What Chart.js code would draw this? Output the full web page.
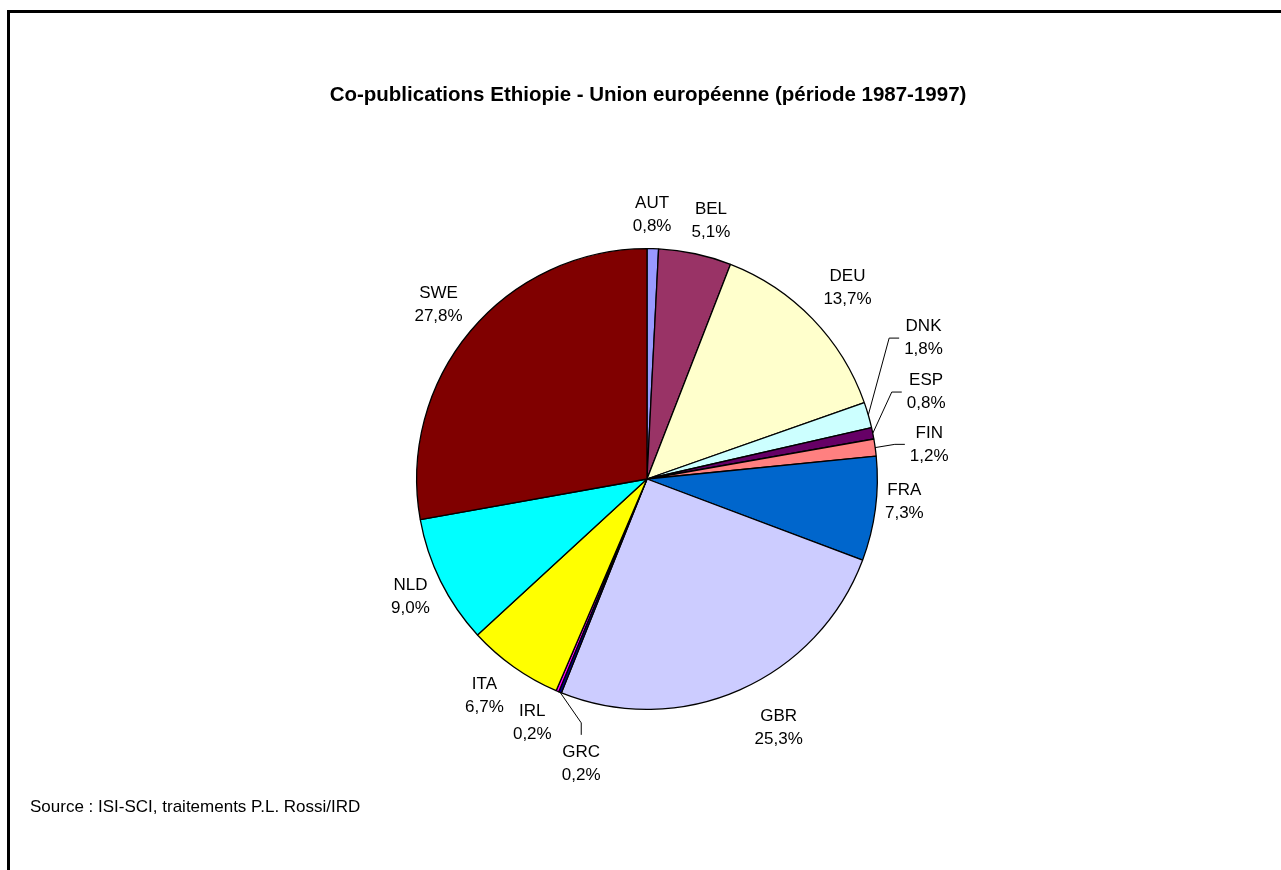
<!DOCTYPE html>
<html>
<head>
<meta charset="utf-8">
<script src="https://cdn.jsdelivr.net/npm/chart.js@4"></script>
<style>
  html, body { margin: 0; padding: 0; background: #fff; overflow: hidden; }
  #wrap { position: relative; width: 1281px; height: 870px; }
  #frame { position: absolute; left: 7px; top: 10px; width: 1300px; height: 900px;
           border-left: 3px solid #000; border-top: 3px solid #000; }
  canvas { position: absolute; left: 0; top: 0; }
</style>
</head>
<body>
<div id="wrap">
  <div id="frame"></div>
  <canvas id="pie" width="1281" height="870"></canvas>
</div>
<script>
// ── Data ──────────────────────────────────────────────────────────
const countries = ["AUT", "BEL", "DEU", "DNK", "ESP", "FIN", "FRA", "GBR", "GRC", "IRL", "ITA", "NLD", "SWE"];
const shares    = [0.8, 5.1, 13.7, 1.8, 0.8, 1.2, 7.3, 25.3, 0.2, 0.2, 6.7, 9.0, 27.8];
const colors    = ["#9999FF", "#993366", "#FFFFCC", "#CCFFFF", "#660066", "#FF8080",
                   "#0066CC", "#CCCCFF", "#000080", "#FF00FF", "#FFFF00", "#00FFFF", "#800000"];

const TITLE  = "Co-publications Ethiopie - Union européenne (période 1987-1997)";
const SOURCE = "Source : ISI-SCI, traitements P.L. Rossi/IRD";

// label placement: [angle from 12 o'clock in degrees, distance beyond the rim]
const labelPlace = {
  AUT: [1.1, 34],  BEL: [13.9, 36], DEU: [46.3, 47], DNK: [63.0, 80],
  ESP: [72.7, 62], FIN: [83.0, 54], FRA: [95.1, 28], GBR: [152.1, 51],
  GRC: [193.0, 62], IRL: [205.2, 39], ITA: [216.8, 41], NLD: [243.5, 34],
  SWE: [309.8, 41],
};
const leaders = { DNK: "side", ESP: "side", FIN: "side", GRC: "below" };

const FONT = "Arial, 'Liberation Sans', sans-serif";

// ── Labels + leader lines ─────────────────────────────────────────
const pieLabels = {
  id: "pieLabels",
  afterDatasetsDraw(chart) {
    const ctx = chart.ctx;
    const arcs = chart.getDatasetMeta(0).data;
    ctx.save();
    ctx.font = `17px ${FONT}`;
    ctx.fillStyle = "#000";
    ctx.strokeStyle = "#000";
    ctx.lineWidth = 1;
    ctx.textAlign = "center";
    ctx.textBaseline = "middle";
    const lineH = 23;

    arcs.forEach((arc, i) => {
      const p = arc.getProps(["x", "y", "startAngle", "endAngle", "outerRadius"], true);
      const name = countries[i];
      const pct = shares[i].toFixed(1).replace(".", ",") + "%";
      const [deg, extra] = labelPlace[name];
      const a = deg * Math.PI / 180;
      const lx = p.x + (p.outerRadius + extra) * Math.sin(a);
      const ly = p.y - (p.outerRadius + extra) * Math.cos(a);

      ctx.fillText(name, lx, ly - lineH / 2);
      ctx.fillText(pct,  lx, ly + lineH / 2);

      const kind = leaders[name];
      if (!kind) return;
      const mid = (p.startAngle + p.endAngle) / 2;
      const ax = p.x + p.outerRadius * Math.cos(mid);
      const ay = p.y + p.outerRadius * Math.sin(mid);
      const w = Math.max(ctx.measureText(name).width, ctx.measureText(pct).width);
      let ex, ey, kx, ky;
      if (kind === "side") {
        ex = lx - w / 2 - 5; ey = ly;
        kx = ex - 10;        ky = ey;
      } else {
        ex = lx;             ey = ly - lineH - 6;
        kx = lx;             ky = ey - 12;
      }
      ctx.beginPath();
      ctx.moveTo(ax, ay);
      ctx.lineTo(kx, ky);
      ctx.lineTo(ex, ey);
      ctx.stroke();
    });

    // title + source
    ctx.font = `bold 20.5px ${FONT}`;
    ctx.fillText(TITLE, 648, 95);
    ctx.font = `17px ${FONT}`;
    ctx.textAlign = "left";
    ctx.fillText(SOURCE, 30, 807);
    ctx.restore();
  }
};

new Chart(document.getElementById("pie"), {
  type: "pie",
  data: {
    labels: countries,
    datasets: [{
      data: shares,
      backgroundColor: colors,
      borderColor: "#000",
      borderWidth: 1.3,
      hoverOffset: 0,
    }]
  },
  options: {
    responsive: false,
    animation: false,
    events: [],
    layout: { padding: { top: 248, bottom: 160, left: 400, right: 387 } },
    plugins: { legend: { display: false }, tooltip: { enabled: false }, title: { display: false } },
  },
  plugins: [pieLabels]
});
</script>
</body>
</html>
